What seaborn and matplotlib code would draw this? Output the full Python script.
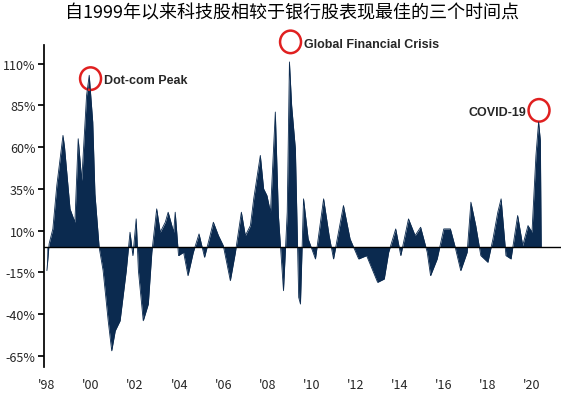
import matplotlib
matplotlib.use("Agg")
import matplotlib.pyplot as plt
import seaborn as sns
import pandas as pd
from matplotlib.patches import Ellipse

# ── Datos ──
years = [1998.0, 1998.1, 1998.27, 1998.45, 1998.73, 1998.8, 1999.05, 1999.27, 1999.42, 1999.58,
         1999.8, 1999.92, 2000.08, 2000.18, 2000.37, 2000.55, 2000.78, 2000.94, 2001.1, 2001.32,
         2001.6, 2001.77, 2001.9, 2002.05, 2002.15, 2002.37, 2002.6, 2002.76, 2002.98, 2003.14,
         2003.37, 2003.5, 2003.75, 2003.82, 2003.97, 2004.2, 2004.4, 2004.64, 2004.9, 2005.15,
         2005.4, 2005.55, 2005.78, 2006.0, 2006.32, 2006.55, 2006.82, 2007.0, 2007.23, 2007.38,
         2007.68, 2007.83, 2007.98, 2008.14, 2008.36, 2008.5, 2008.73, 2008.9, 2009.0, 2009.1,
         2009.27, 2009.42, 2009.5, 2009.64, 2009.85, 2010.18, 2010.55, 2010.8, 2011.0, 2011.45,
         2011.75, 2012.14, 2012.5, 2013.0, 2013.3, 2013.5, 2013.82, 2014.05, 2014.4, 2014.7,
         2014.95, 2015.25, 2015.4, 2015.7, 2016.0, 2016.3, 2016.5, 2016.77, 2017.06, 2017.23,
         2017.45, 2017.68, 2018.0, 2018.23, 2018.45, 2018.6, 2018.82, 2019.05, 2019.35, 2019.58,
         2019.82, 2020.0, 2020.18, 2020.3, 2020.38, 2020.42]
values = [-14, 2, 11, 37, 67, 60, 23, 15, 65, 40,
          91, 103, 75, 32, 0, -14, -44, -62, -50, -44,
          -14, 9, -5, 17, -14, -44, -34, -3, 23, 9,
          15, 21, 9, 21, -5, -3, -17, -3, 8, -6,
          7, 15, 7, 1, -20, -3, 21, 7, 13, 29,
          55, 35, 31, 21, 81, 19, -26, 21, 111, 85,
          59, -30, -34, 29, 5, -7, 29, 7, -7, 25,
          5, -7, -5, -21, -19, -3, 11, -5, 17, 7,
          12, -3, -17, -7, 11, 11, 1, -14, -3, 27,
          13, -5, -9, 5, 21, 29, -5, -7, 19, 1,
          13, 9, 55, 75, 64, 0]
tick_years = list(range(1998, 2021, 2))
tick_labels = ["'98", "'00", "'02", "'04", "'06", "'08", "'10", "'12", "'14", "'16", "'18", "'20"]
y_ticks = [110, 85, 60, 35, 10, -15, -40, -65]

df = pd.DataFrame({"year": years, "value": values})
navy = "#0b2a4f"

sns.set_theme(style="white")
plt.rcParams['font.family'] = ['Noto Sans CJK SC', 'DejaVu Sans']

fig = plt.figure(figsize=(5.84, 4.02), dpi=100)
ax = fig.add_axes([0.075, 0.085, 0.885, 0.8])
sns.lineplot(data=df, x="year", y="value", color=navy, lw=0.6, ax=ax)
ax.fill_between(df["year"], df["value"], 0, color=navy, lw=0)
ax.axhline(0, color="black", lw=1)

ax.set_xlim(1997.86, 2021.3)
ax.set_ylim(-71.6, 121)
ax.set_yticks(y_ticks)
ax.set_yticklabels([f"{v}%" for v in y_ticks], fontsize=9)
ax.set_xticks(tick_years)
ax.set_xticklabels(tick_labels, fontsize=9)
ax.set_xlabel("")
ax.set_ylabel("")
for s in ["top", "right", "bottom"]:
    ax.spines[s].set_visible(False)
ax.spines["left"].set_color("black")
ax.tick_params(axis="y", left=True, length=4, color="black", pad=2)
ax.tick_params(axis="x", bottom=False, pad=2)

# Anotaciones
for (x0, y0), label, dx, ha in [((1999.98, 101), "Dot-com Peak", 0.6, "left"),
                                  ((2009.05, 123), "Global Financial Crisis", 0.6, "left"),
                                  ((2020.32, 82), "COVID-19", -0.6, "right")]:
    ax.add_patch(Ellipse((x0, y0), 0.95, 13.5, fill=False, edgecolor="#e02020", lw=1.8, clip_on=False))
    ax.text(x0 + dx, y0 - 1, label, fontsize=9, fontweight="bold", ha=ha, va="center",
            family=["Liberation Sans", "DejaVu Sans"])

fig.suptitle("自1999年以来科技股相较于银行股表现最佳的三个时间点", fontsize=13, y=0.99, color="black")
fig.savefig("out.png", dpi=100)
